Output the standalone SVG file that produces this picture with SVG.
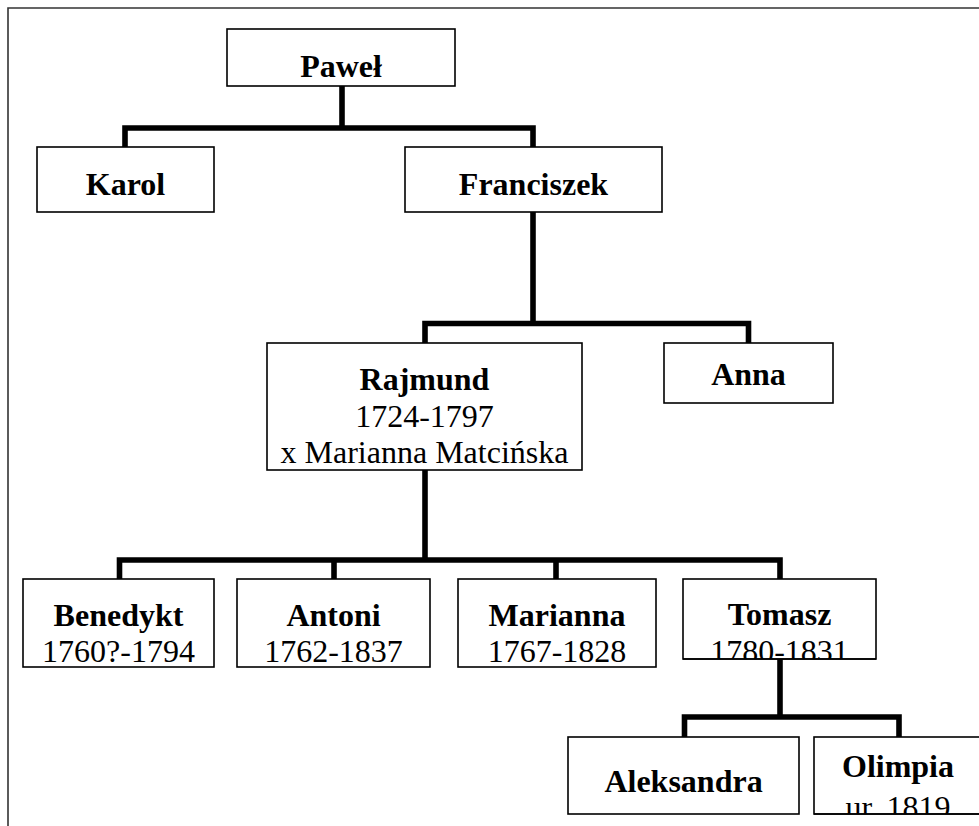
<svg xmlns="http://www.w3.org/2000/svg" width="979" height="826" viewBox="0 0 979 826">
<style>
.box{fill:#fff;stroke:#000;stroke-width:1.6}
.n{font-family:"Liberation Serif","Times New Roman",serif;font-size:32px;font-weight:bold;text-anchor:middle;fill:#000}
.d{font-family:"Liberation Serif","Times New Roman",serif;font-size:32px;text-anchor:middle;fill:#000}
.c{fill:none;stroke:#000;stroke-width:5.6;stroke-linejoin:miter;stroke-linecap:butt}
</style>
<defs>
<clipPath id="clipTomasz"><rect x="683" y="579" width="193" height="80"/></clipPath>
<clipPath id="clipOlimpia"><rect x="814" y="737" width="170" height="77"/></clipPath>
</defs>
<rect width="979" height="826" fill="#fff"/>
<path d="M8,830 V8 H985" fill="none" stroke="#333" stroke-width="1.6"/>
<g id="connectors">
<path class="c" d="M342,86 V128"/>
<path class="c" d="M125,147 V128 H533 V147"/>
<path class="c" d="M533,212 V323.5"/>
<path class="c" d="M425,343 V323.5 H748.5 V343"/>
<path class="c" d="M425,470 V560"/>
<path class="c" d="M119.5,579 V560 H780 V579"/>
<path class="c" d="M334,560 V579"/>
<path class="c" d="M556,560 V579"/>
<path class="c" d="M780,659 V717"/>
<path class="c" d="M684.5,737 V717 H899 V737"/>
</g>
<g id="pawel">
<rect class="box" x="227" y="29" width="228" height="57"/>
<text class="n" x="341" y="77">Paweł</text>
</g>
<g id="karol">
<rect class="box" x="37" y="147" width="177" height="65"/>
<text class="n" x="125.5" y="195">Karol</text>
</g>
<g id="franciszek">
<rect class="box" x="405" y="147" width="257" height="65"/>
<text class="n" x="533.5" y="195">Franciszek</text>
</g>
<g id="rajmund">
<rect class="box" x="267" y="343" width="315" height="127"/>
<text class="n" x="424.5" y="390">Rajmund</text>
<text class="d" x="424.5" y="427">1724-1797</text>
<text class="d" x="424.5" y="463">x Marianna Matcińska</text>
</g>
<g id="anna">
<rect class="box" x="664" y="343" width="169" height="60"/>
<text class="n" x="748.5" y="385">Anna</text>
</g>
<g id="benedykt">
<rect class="box" x="23" y="579" width="191" height="88"/>
<text class="n" x="118.5" y="626">Benedykt</text>
<text class="d" x="118.5" y="662">1760?-1794</text>
</g>
<g id="antoni">
<rect class="box" x="237" y="579" width="193" height="88"/>
<text class="n" x="333.5" y="626">Antoni</text>
<text class="d" x="333.5" y="662">1762-1837</text>
</g>
<g id="marianna">
<rect class="box" x="458" y="579" width="198" height="88"/>
<text class="n" x="557" y="626">Marianna</text>
<text class="d" x="557" y="662">1767-1828</text>
</g>
<g id="tomasz">
<rect class="box" x="683" y="579" width="193" height="80"/>
<text class="n" x="779.5" y="625">Tomasz</text>
<text class="d" x="779.5" y="662" clip-path="url(#clipTomasz)">1780-1831</text>
<line x1="683" y1="659" x2="876" y2="659" stroke="#000" stroke-width="1.6"/>
</g>
<g id="aleksandra">
<rect class="box" x="568" y="737" width="231" height="77"/>
<text class="n" x="683.5" y="792">Aleksandra</text>
</g>
<g id="olimpia">
<rect class="box" x="814" y="737" width="170" height="77"/>
<text class="n" x="898" y="777">Olimpia</text>
<text class="d" x="898" y="818" clip-path="url(#clipOlimpia)">ur. 1819</text>
<line x1="814" y1="814" x2="984" y2="814" stroke="#000" stroke-width="1.6"/>
</g>
</svg>
